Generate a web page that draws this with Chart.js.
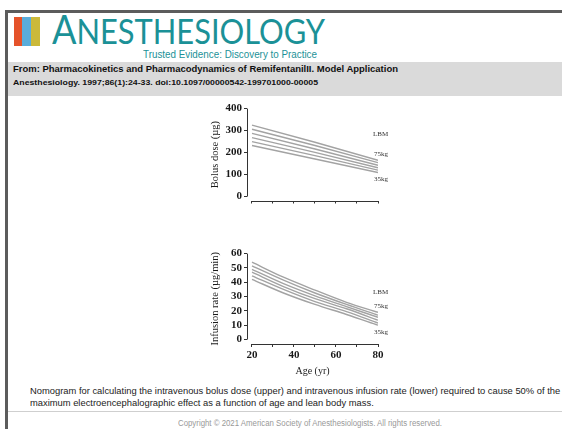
<!DOCTYPE html>
<html>
<head>
<meta charset="utf-8">
<script src="https://cdn.jsdelivr.net/npm/chart.js@4/dist/chart.umd.min.js"></script>
<style>
  html, body { margin: 0; padding: 0; background: #fff; }
  body { width: 562px; height: 429px; position: relative; overflow: hidden; font-family: "Liberation Sans", Arial, sans-serif; }
  .abs { position: absolute; white-space: nowrap; }
  .fit { display: inline-block; transform-origin: 0 50%; }
  #frame { left: 5px; top: 10px; width: 600px; height: 500px; border-top: 3px solid #5c5c5c; border-left: 3px solid #5c5c5c; }
  .bar { position: absolute; top: 17px; height: 29px; }
  #brand { left: 52px; top: 8px; color: #1b9197; font-family: Lato, "Open Sans", sans-serif; line-height: 1; }
  #brand .big { font-size: 41px; }
  #brand .sm { font-size: 35px; }
  #tag { left: 143px; top: 49px; color: #1b9197; font-size: 10px; line-height: 12px; }
  #band { left: 8px; top: 62px; width: 560px; height: 34px; background: #dadada; }
  #from { left: 13px; top: 63px; font-size: 9.5px; font-weight: bold; color: #111; line-height: 12px; }
  #cite { left: 13px; top: 77px; font-size: 8px; font-weight: bold; color: #111; line-height: 11px; }
  canvas { position: absolute; }
  #caption { left: 30px; top: 385px; color: #222; line-height: 12px; font-size: 10px; }
  #caption div { white-space: nowrap; }
  #rule { left: 8px; top: 411px; width: 560px; height: 1px; background: #cfcfcf; }
  #copy { left: 178px; top: 418px; font-size: 8.5px; color: #999; line-height: 11px; }
</style>
</head>
<body>
<div id="frame" class="abs"></div>
<div class="bar" style="left:14px;width:8px;background:#e5532a"></div>
<div class="bar" style="left:22px;width:9px;background:#5aaddb"></div>
<div class="bar" style="left:31px;width:9px;background:#cbb93a"></div>
<div id="brand" class="abs"><span class="fit" data-w="273"><span class="big">A</span><span class="sm">NESTHESIOLOGY</span></span></div>
<div id="tag" class="abs"><span class="fit" data-w="174">Trusted Evidence: Discovery to Practice</span></div>
<div id="band" class="abs"></div>
<div id="from" class="abs"><span class="fit" data-w="385">From: Pharmacokinetics and Pharmacodynamics of RemifentanilII. Model Application</span></div>
<div id="cite" class="abs"><span class="fit" data-w="305">Anesthesiology. 1997;86(1):24-33. doi:10.1097/00000542-199701000-00005</span></div>

<canvas id="bolus" width="200" height="110" style="left:195px;top:100px"></canvas>
<canvas id="infusion" width="200" height="132" style="left:195px;top:245px"></canvas>

<div id="caption" class="abs">
  <div><span id="capFirst">Nomogram for calculating the intravenous bolus dose (upper) and intravenous infusion rate (lower) required to cause 50% of the</span></div>
  <div>maximum electroencephalographic effect as a function of age and lean body mass.</div>
</div>
<div id="rule" class="abs"></div>
<div id="copy" class="abs"><span class="fit" data-w="264">Copyright © 2021 American Society of Anesthesiologists. All rights reserved.</span></div>

<script>
// Age in years
const AGE_TICKS = [20, 30, 40, 50, 60, 70, 80];
const AGE_LABELS = [20, 40, 60, 80];
const BOLUS_TICKS = [0, 100, 200, 300, 400];
const RATE_TICKS = [0, 10, 20, 30, 40, 50, 60];

// Bolus dose (µg), lean body mass 75 kg down to 35 kg
const bolusAges = [20, 50, 80];
const bolus75 = [325, 247, 165];
const bolus67 = [306, 232, 154];
const bolus59 = [287, 216, 142];
const bolus51 = [268, 201, 131];
const bolus43 = [250, 186, 120];
const bolus35 = [232, 171, 109];

// Infusion rate (µg/min), lean body mass 75 kg down to 35 kg
const rateAges = [20, 35, 50, 65, 80];
const rate75 = [54, 43.5, 34.5, 26, 19];
const rate67 = [51.5, 41.5, 32.5, 24.5, 17];
const rate59 = [49, 39, 30.5, 23, 15.5];
const rate51 = [47, 37, 28.5, 21.5, 13.5];
const rate43 = [44.5, 35, 26.5, 19.5, 11.5];
const rate35 = [42, 32.5, 24.5, 17.5, 10];

const SERIF = '"Liberation Serif", "Times New Roman", serif';
const LINE = '#a3a3a3';
const INK = '#1a1a1a';

function seriesOf(ages, ys) {
  return ys.map(v => v.map((y, i) => ({ x: ages[i], y })));
}

// Draws the detached axis lines and the LBM / kg notes beside the line ends
const axesAndNotes = {
  id: 'axesAndNotes',
  afterDraw(chart, args, opts) {
    const { ctx, chartArea, scales: { x, y } } = chart;
    ctx.save();
    ctx.strokeStyle = '#333';
    ctx.lineWidth = 1;
    ctx.beginPath();
    const ax = Math.round(chartArea.left) + 0.5;
    ctx.moveTo(ax, y.getPixelForValue(opts.yTicks[0]));
    ctx.lineTo(ax, y.getPixelForValue(opts.yTicks[opts.yTicks.length - 1]));
    const ay = Math.round(chartArea.bottom) + 0.5;
    ctx.moveTo(x.getPixelForValue(AGE_TICKS[0]), ay);
    ctx.lineTo(x.getPixelForValue(AGE_TICKS[AGE_TICKS.length - 1]), ay);
    ctx.stroke();

    const ds = chart.data.datasets;
    const endTop = ds[0].data[ds[0].data.length - 1];
    const endBot = ds[ds.length - 1].data[ds[ds.length - 1].data.length - 1];
    const lx = x.getPixelForValue(endTop.x) - 5;
    const yTop = y.getPixelForValue(endTop.y);
    const yBot = y.getPixelForValue(endBot.y);
    ctx.fillStyle = '#333';
    ctx.textAlign = 'left';
    ctx.textBaseline = 'middle';
    ctx.font = '7px ' + SERIF;
    ctx.fillText('LBM', lx, yTop - opts.lbmGap);
    ctx.fillText('75kg', lx + 1, yTop - 6.5);
    ctx.fillText('35kg', lx + 1, yBot + 7);
    ctx.restore();
  }
};

function makeChart(id, cfg) {
  const datasets = seriesOf(cfg.ages, cfg.series).map(d => ({
    data: d,
    borderColor: LINE,
    borderWidth: 1.4,
    pointRadius: 0,
    fill: false,
    tension: cfg.curved ? 0.4 : 0,
    cubicInterpolationMode: cfg.curved ? 'monotone' : 'default'
  }));
  return new Chart(document.getElementById(id), {
    type: 'line',
    data: { datasets },
    plugins: [axesAndNotes],
    options: {
      responsive: false,
      animation: false,
      devicePixelRatio: 1,
      layout: { autoPadding: false, padding: cfg.padding },
      plugins: {
        legend: { display: false },
        tooltip: { enabled: false },
        axesAndNotes: { yTicks: cfg.yTicks, lbmGap: cfg.lbmGap }
      },
      scales: {
        x: {
          type: 'linear',
          min: cfg.xMin,
          max: 80,
          afterBuildTicks: s => { s.ticks = AGE_TICKS.map(v => ({ value: v })); },
          afterFit: s => { s.height = cfg.xHeight; },
          border: { display: false },
          grid: { drawOnChartArea: false, drawTicks: true, tickLength: 3, color: '#333', tickColor: '#333' },
          ticks: {
            display: cfg.showAgeLabels,
            autoSkip: false,
            maxRotation: 0,
            padding: 2,
            color: INK,
            font: { family: SERIF, size: 11, weight: 'bold' },
            callback: v => (AGE_LABELS.includes(v) ? String(v) : '')
          },
          title: {
            display: cfg.showAgeLabels,
            text: 'Age (yr)',
            color: INK,
            padding: { top: 0, bottom: 0 },
            font: { family: SERIF, size: 10 }
          }
        },
        y: {
          type: 'linear',
          min: cfg.yMin,
          max: cfg.yTicks[cfg.yTicks.length - 1],
          afterBuildTicks: s => { s.ticks = cfg.yTicks.map(v => ({ value: v })); },
          afterFit: s => { s.width = 52; },
          border: { display: false },
          grid: { drawOnChartArea: false, drawTicks: true, tickLength: 3, color: '#333', tickColor: '#333' },
          ticks: {
            autoSkip: false,
            padding: 2,
            color: INK,
            font: { family: SERIF, size: 11, weight: 'bold' },
            callback: v => String(v)
          },
          title: {
            display: true,
            text: cfg.yTitle,
            color: INK,
            padding: { top: 14, bottom: 0 },
            font: { family: SERIF, size: 10.5 }
          }
        }
      }
    }
  });
}

makeChart('bolus', {
  ages: bolusAges,
  series: [bolus75, bolus67, bolus59, bolus51, bolus43, bolus35],
  curved: false,
  yTicks: BOLUS_TICKS,
  yMin: -18,
  xMin: 17.62,
  xHeight: 5,
  showAgeLabels: false,
  yTitle: 'Bolus dose (µg)',
  lbmGap: 26,
  padding: { left: 0, top: 7.5, right: 17, bottom: 4.5 }
});

makeChart('infusion', {
  ages: rateAges,
  series: [rate75, rate67, rate59, rate51, rate43, rate35],
  curved: true,
  yTicks: RATE_TICKS,
  yMin: -3.12,
  xMin: 17.62,
  xHeight: 33,
  showAgeLabels: true,
  yTitle: 'Infusion rate (µg/min)',
  lbmGap: 20,
  padding: { left: 0, top: 8, right: 17, bottom: 0 }
});

// Squeeze header lines to their set widths
document.querySelectorAll('.fit').forEach(el => {
  const w = el.getBoundingClientRect().width;
  const target = parseFloat(el.dataset.w);
  if (w > 0) el.style.transform = 'scaleX(' + (target / w) + ')';
});
// One caption size, chosen so the first line runs to the right edge
(function () {
  const first = document.getElementById('capFirst');
  const w = first.getBoundingClientRect().width;
  if (w > 0) document.getElementById('caption').style.fontSize = (10 * 531 / w).toFixed(2) + 'px';
})();
</script>
</body>
</html>
